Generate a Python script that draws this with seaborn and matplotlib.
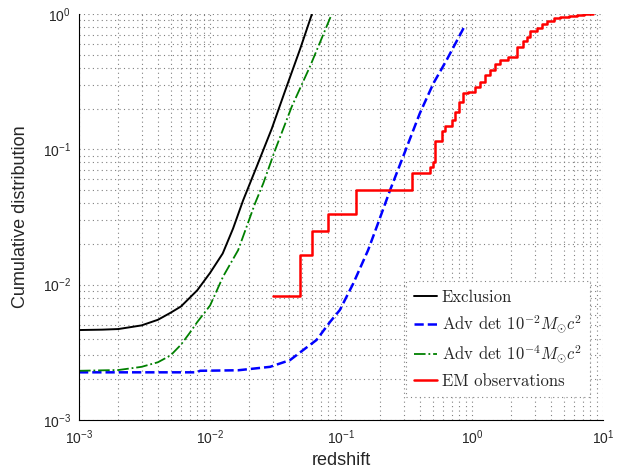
import numpy as np
import pandas as pd
import seaborn as sns
import matplotlib.pyplot as plt
from matplotlib.font_manager import FontProperties

# cumulative distributions vs redshift
excl_z = [0.001, 0.0015, 0.002, 0.003, 0.004, 0.005, 0.006, 0.007, 0.008, 0.01,
          0.0125, 0.015, 0.0179, 0.0227, 0.0296, 0.0374, 0.0487, 0.06]
excl_cdf = [0.00462, 0.00465, 0.0047, 0.0050, 0.0055, 0.0062, 0.0069, 0.0080, 0.0091, 0.0122,
            0.017, 0.026, 0.042, 0.0744, 0.142, 0.27, 0.55, 1.0]

adv2_z = [0.001, 0.002, 0.005, 0.0079, 0.0084, 0.0164, 0.0287, 0.0408, 0.0515, 0.065,
          0.0824, 0.098, 0.124, 0.161, 0.188, 0.237, 0.30, 0.40, 0.507, 0.64, 0.87]
adv2_cdf = [0.00225, 0.00225, 0.00225, 0.00225, 0.00231, 0.00233, 0.00247, 0.00277, 0.00329, 0.0039,
            0.0053, 0.0065, 0.0102, 0.018, 0.027, 0.050, 0.090, 0.185, 0.307, 0.457, 0.80]

adv4_z = [0.001, 0.002, 0.003, 0.004, 0.005, 0.006, 0.007, 0.008, 0.01, 0.0126,
          0.0164, 0.0221, 0.0255, 0.0313, 0.042, 0.058, 0.085]
adv4_cdf = [0.00231, 0.00234, 0.00247, 0.00267, 0.0030, 0.0036, 0.0044, 0.0053, 0.0070, 0.0115,
            0.018, 0.040, 0.056, 0.098, 0.206, 0.41, 1.0]

em_z = [0.030, 0.049, 0.0597, 0.080, 0.129, 0.35, 0.478, 0.507, 0.52, 0.586,
        0.62, 0.70, 0.74, 0.80, 0.85, 0.94, 1.05, 1.15, 1.26, 1.37,
        1.50, 1.63, 1.89, 2.19, 2.45, 2.62, 2.77, 3.12, 3.4, 3.72,
        4.2, 4.7, 5.5, 6.3, 7.2, 8.4]
em_cdf = [0.0082, 0.0165, 0.0249, 0.0334, 0.050, 0.0664, 0.0736, 0.081, 0.116, 0.137,
          0.150, 0.165, 0.19, 0.225, 0.26, 0.267, 0.29, 0.316, 0.354, 0.386,
          0.43, 0.457, 0.483, 0.573, 0.63, 0.68, 0.753, 0.784, 0.84, 0.89,
          0.93, 0.955, 0.975, 0.99, 0.997, 1.0]

labels = ['Exclusion',
          r'Adv det $10^{-2}M_{\odot}c^2$',
          r'Adv det $10^{-4}M_{\odot}c^2$',
          'EM observations']

sns.set_style('white')
plt.rcParams['font.family'] = ['Liberation Sans', 'DejaVu Sans']

fig, ax = plt.subplots(figsize=(6.29, 4.72), dpi=100)
fig.subplots_adjust(left=0.1256, right=0.9587, top=0.9703, bottom=0.1102)

sns.lineplot(ax=ax, x=excl_z, y=excl_cdf, color='k', lw=1.4, label=labels[0],
             estimator=None, sort=False)
sns.lineplot(ax=ax, x=adv2_z, y=adv2_cdf, color='#0000ff', lw=1.8, linestyle='--',
             label=labels[1], estimator=None, sort=False)
sns.lineplot(ax=ax, x=adv4_z, y=adv4_cdf, color='#008000', lw=1.3, linestyle='-.',
             label=labels[2], estimator=None, sort=False)
sns.lineplot(ax=ax, x=em_z, y=em_cdf, color='#ff0000', lw=1.8, drawstyle='steps-post',
             label=labels[3], estimator=None, sort=False)

ax.set_xscale('log')
ax.set_yscale('log')
ax.set_xlim(1e-3, 10)
ax.set_ylim(1e-3, 1)

ax.grid(True, which='both', linestyle=(0, (1, 3)), color='0.5', linewidth=0.8)
for s in ['top', 'right']:
    ax.spines[s].set_visible(False)
for s in ['left', 'bottom']:
    ax.spines[s].set_color('k')
    ax.spines[s].set_linewidth(0.8)
ax.tick_params(which='both', direction='in', labelsize=10, pad=6)
ax.tick_params(which='major', length=4)
ax.tick_params(which='minor', length=2)

ax.set_xlabel('redshift', fontsize=13, labelpad=4)
ax.set_ylabel('Cumulative distribution', fontsize=13, labelpad=10)

leg_font = FontProperties(family='cmr10', math_fontfamily='cm', size=12)
leg = ax.legend(loc='lower right', bbox_to_anchor=(0.975, 0.057), prop=leg_font,
                handlelength=1.4, handletextpad=0.25, labelspacing=0.5,
                borderpad=0.5, fancybox=False, framealpha=1, borderaxespad=0)
leg.get_frame().set_edgecolor('0.5')
leg.get_frame().set_linestyle((0, (1, 3)))
leg.get_frame().set_linewidth(0.8)

plt.savefig('out.png', dpi=100)
